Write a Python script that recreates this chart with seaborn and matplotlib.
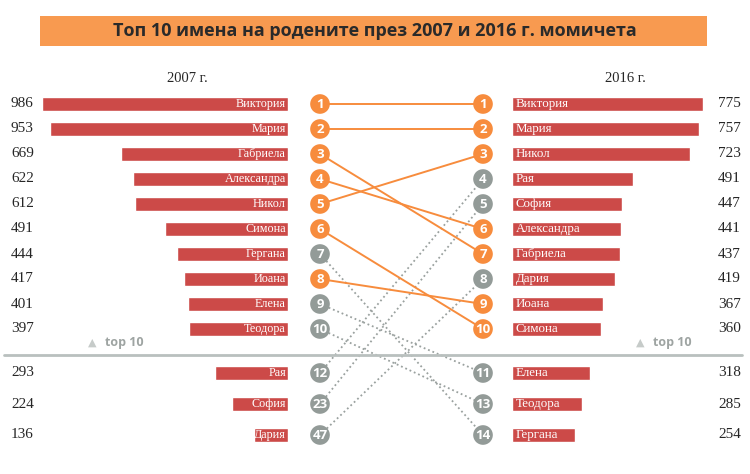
import numpy as np
import matplotlib
matplotlib.use("Agg")
import matplotlib.pyplot as plt
import matplotlib.transforms as mtransforms
from matplotlib.patches import Rectangle
from matplotlib.lines import Line2D
import seaborn as sns

# данни
names_2007 = ['Виктория', 'Мария', 'Габриела', 'Александра', 'Никол', 'Симона',
              'Гергана', 'Йоана', 'Елена', 'Теодора', 'Рая', 'София', 'Дария']
counts_2007 = [986, 953, 669, 622, 612, 491, 444, 417, 401, 397, 293, 224, 136]
ranks_2007 = [1, 2, 3, 4, 5, 6, 7, 8, 9, 10, 12, 23, 47]

names_2016 = ['Виктория', 'Мария', 'Никол', 'Рая', 'София', 'Александра', 'Габриела',
              'Дария', 'Йоана', 'Симона', 'Елена', 'Теодора', 'Гергана']
counts_2016 = [775, 757, 723, 491, 447, 441, 437, 419, 367, 360, 318, 285, 254]
ranks_2016 = [1, 2, 3, 4, 5, 6, 7, 8, 9, 10, 11, 13, 14]

title = 'Топ 10 имена на родените през 2007 и 2016 г. момичета'
year_left = '2007 г.'
year_right = '2016 г.'

# цветове
RED = '#cc4a48'
ORANGE = '#f78c3d'
GREY = '#939b98'
TITLE_BG = '#f89a50'
SEP = '#b9c0be'

# позиции на редовете (top 10 плътно, останалите след разделителя)
slots = list(range(10)) + [10.76, 12.0, 13.24]

sns.set_style('white')
plt.rcParams['font.family'] = ['Liberation Serif', 'DejaVu Serif']

W, H = 750, 474
fig = plt.figure(figsize=(W / 100, H / 100), dpi=100)

def fr(x0, x1, y0=90, y1=450):
    return [x0 / W, 1 - y1 / H, (x1 - x0) / W, (y1 - y0) / H]

ylim = (13.84, -0.56)

# лява графика 2007
axl = fig.add_axes(fr(40, 288))
sns.barplot(x=counts_2007, y=slots, orient='h', native_scale=True, width=0.56,
            color=RED, saturation=1, errorbar=None, ax=axl)
axl.set_xlim(994, 0)
axl.set_ylim(*ylim)
axl.axis('off')
for s, n, v in zip(slots, names_2007, counts_2007):
    axl.text(8, s, n, ha='right', va='center', color='white', fontsize=8.7)
    axl.text(-0.025, s, str(v), ha='right', va='center', fontsize=11,
             transform=axl.get_yaxis_transform(), clip_on=False)

# дясна графика 2016
axr = fig.add_axes(fr(512, 712))
sns.barplot(x=counts_2016, y=slots, orient='h', native_scale=True, width=0.56,
            color=RED, saturation=1, errorbar=None, ax=axr)
axr.set_xlim(0, 811)
axr.set_ylim(*ylim)
axr.axis('off')
for s, n, v in zip(slots, names_2016, counts_2016):
    axr.text(14, s, n, ha='left', va='center', color='white', fontsize=9.3)
    axr.text(1.03, s, str(v), ha='left', va='center', fontsize=11,
             transform=axr.get_yaxis_transform(), clip_on=False)

# средна част: връзки
axm = fig.add_axes(fr(300, 503))
axm.set_xlim(-0.1227, 1.1227)
axm.set_ylim(*ylim)
axm.axis('off')

for i, n in enumerate(names_2007):
    j = names_2016.index(n)
    both = ranks_2007[i] <= 10 and ranks_2016[j] <= 10
    if both:
        axm.plot([0, 1], [slots[i], slots[j]], color=ORANGE, lw=1.4, zorder=2)
    else:
        axm.plot([0, 1], [slots[i], slots[j]], color='#9aa19f', lw=1.3,
                 ls=(0, (1, 1.6)), zorder=1)

def circ_col(r_self, name, other_names, other_ranks):
    k = other_names.index(name)
    return ORANGE if (r_self <= 10 and other_ranks[k] <= 10) else GREY

cl = [circ_col(r, n, names_2016, ranks_2016) for r, n in zip(ranks_2007, names_2007)]
cr = [circ_col(r, n, names_2007, ranks_2007) for r, n in zip(ranks_2016, names_2016)]
axm.scatter([0] * len(slots), slots, s=200, c=cl, zorder=3, clip_on=False, linewidths=0)
axm.scatter([1] * len(slots), slots, s=200, c=cr, zorder=3, clip_on=False, linewidths=0)
for s, r in zip(slots, ranks_2007):
    axm.text(0, s + 0.03, str(r), ha='center', va='center', color='white',
             fontsize=9.5, fontweight='bold', family='Open Sans', zorder=4)
for s, r in zip(slots, ranks_2016):
    axm.text(1, s + 0.03, str(r), ha='center', va='center', color='white',
             fontsize=9.5, fontweight='bold', family='Open Sans', zorder=4)

# разделител и "top 10"
sep_tr = mtransforms.blended_transform_factory(fig.transFigure, axm.transData)
fig.add_artist(Line2D([4 / W, 742 / W], [10.04, 10.04], color=SEP, lw=2,
                      transform=sep_tr))
for xt in (88, 636):
    fig.text(xt / W, 9.55, '▲', transform=sep_tr, ha='left', va='center',
             color='#c6cbc9', fontsize=8, family='DejaVu Sans')
    fig.text((xt + 17) / W, 9.55, 'top 10', transform=sep_tr, ha='left', va='center',
             color='#9ea4a2', fontsize=9, fontweight='bold', family='Open Sans')

# заглавие
fig.add_artist(Rectangle((40 / W, 1 - 46 / H), 667 / W, 30 / H,
                         transform=fig.transFigure, color=TITLE_BG, lw=0))
fig.text(375 / W, 1 - 31 / H, title, ha='center', va='center', fontsize=13,
         fontweight='bold', family='Open Sans', color='#2a2a2a')

fig.text(187 / W, 1 - 78 / H, year_left, ha='center', va='center', fontsize=10.5)
fig.text(625 / W, 1 - 78 / H, year_right, ha='center', va='center', fontsize=10.5)

fig.savefig('out.png', dpi=100)
